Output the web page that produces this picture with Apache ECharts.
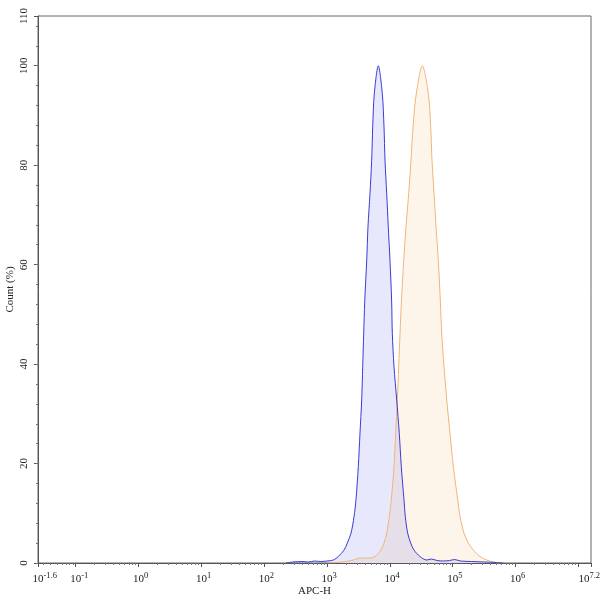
<!DOCTYPE html>
<html>
<head>
<meta charset="utf-8">
<script src="https://cdn.jsdelivr.net/npm/echarts@6/dist/echarts.min.js"></script>
<style>html,body{margin:0;padding:0;background:#fff}#c{width:600px;height:602px}</style>
</head>
<body>
<div id="c"></div>
<script>
// x values are log10(APC-H)
var blueX = [2.35,2.45,2.6,2.7,2.8,2.9,3.0,3.099,3.179,3.270,3.322,3.381,3.429,3.460,3.497,3.524,3.551,3.567,3.583,3.599,3.631,3.651,3.683,3.710,3.726,3.752,3.815,3.879,3.906,3.922,3.949,3.974,4.001,4.028,4.038,4.065,4.108,4.149,4.181,4.224,4.245,4.283,4.331,4.383,4.479,4.585,4.66,4.75,4.85,4.95,5.03,5.12,5.3,5.5,5.7,5.8];
var blueY = [0,0.2,0.3,0.2,0.4,0.3,0.4,0.6,1.3,2.6,4.0,6.0,9.3,12.7,19.4,26.1,32.8,39.5,46.2,52.5,60.9,67.6,74.3,81.0,87.7,94.4,100,94.4,87.7,81.0,74.3,67.6,60.9,52.5,46.2,39.5,32.8,26.1,19.4,12.7,9.3,6.0,4.0,2.6,1.3,0.6,0.8,0.5,0.4,0.5,0.7,0.4,0.3,0.2,0.1,0];
var orangeX = [3.0,3.153,3.3,3.418,3.524,3.6,3.683,3.763,3.858,3.906,3.949,3.990,4.022,4.065,4.092,4.118,4.140,4.161,4.183,4.220,4.256,4.299,4.336,4.368,4.420,4.516,4.611,4.649,4.670,4.702,4.734,4.770,4.803,4.824,4.861,4.904,4.956,5.009,5.079,5.116,5.179,5.248,5.327,5.434,5.540,5.645,5.75];
var orangeY = [0,0.1,0.3,0.6,1.0,1.0,1.0,1.3,2.6,4.0,6.0,9.3,12.7,19.4,26.1,32.8,39.5,46.2,52.5,60.9,67.6,74.3,81.0,87.7,94.4,100,94.4,87.7,81.0,74.3,67.6,60.9,52.5,46.2,39.5,32.8,26.1,19.4,12.7,9.3,6.0,4.0,2.6,1.3,0.6,0.2,0];
var xTickLabels = [-1.6,-1,0,1,2,3,4,5,6,7.2];
var xTickMarks = [-1.6,-1,0,1,2,3,4,5,6,7,7.2];
var yTickLabels = [0,20,40,60,80,100,110];

function pairs(xs, ys){ return xs.map(function(x,i){return [x, ys[i]];}); }
var minorX = [];
for (var n = -2; n <= 7; n++) {
  for (var k = 2; k <= 9; k++) {
    var v = n + Math.log10(k);
    if (v > -1.6 && v < 7.2) minorX.push(v);
  }
}
var minorY = [];
for (var y = 0; y <= 110; y += 4) minorY.push(y);

var font = 'Liberation Serif';
var chart = echarts.init(document.getElementById('c'));
chart.setOption({
  animation: false,
  grid: {left: 38, right: 9, top: 16, bottom: 39, show: true, borderColor: '#666', borderWidth: 1, outerBoundsMode: 'none', containLabel: false},
  xAxis: [{
    type: 'value', min: -1.6, max: 7.2,
    name: 'APC-H', nameLocation: 'middle', nameGap: 23, nameMoveOverlap: false,
    nameTextStyle: {fontFamily: font, fontSize: 11, color: '#222'},
    axisLine: {show: true, onZero: false, lineStyle: {color: '#555'}},
    axisTick: {show: true, length: 4, customValues: xTickMarks, lineStyle: {color: '#555'}},
    splitLine: {show: false},
    axisLabel: {
      customValues: xTickLabels, margin: 8, color: '#222', fontFamily: font, fontSize: 11, hideOverlap: false,
      formatter: function(v){
        var e = String(Math.round(v*10)/10);
        if (v > 7.1) return '{b|10}{s|' + e + '}{q|0}';
        return '{p|' + e + '}{b|10}{s|' + e + '}';
      },
      rich: {
        b: {fontFamily: font, fontSize: 11, color: '#222'},
        s: {fontFamily: font, fontSize: 8.5, color: '#222', padding: [0,0,7,0]},
        p: {fontFamily: font, fontSize: 8.5, color: 'rgba(0,0,0,0)', padding: [0,0,7,0]},
        q: {fontFamily: font, fontSize: 7, color: 'rgba(0,0,0,0)'}
      }
    }
  }, {
    type: 'value', min: -1.6, max: 7.2, position: 'bottom',
    axisLine: {show: false, onZero: false},
    axisTick: {show: true, length: 2, customValues: minorX, lineStyle: {color: '#777'}},
    axisLabel: {show: false},
    splitLine: {show: false}
  }],
  yAxis: [{
    type: 'value', min: 0, max: 110,
    name: 'Count (%)', nameLocation: 'middle', nameGap: 22, nameMoveOverlap: false,
    nameTextStyle: {fontFamily: font, fontSize: 11, color: '#222'},
    axisLine: {show: true, onZero: false, lineStyle: {color: '#555'}},
    axisTick: {show: true, length: 4, customValues: yTickLabels, lineStyle: {color: '#555'}},
    splitLine: {show: false},
    axisLabel: {customValues: yTickLabels, rotate: 90, margin: 8, color: '#222', fontFamily: font, fontSize: 11}
  }, {
    type: 'value', min: 0, max: 110, position: 'left',
    axisLine: {show: false, onZero: false},
    axisTick: {show: true, length: 2, customValues: minorY, lineStyle: {color: '#777'}},
    axisLabel: {show: false},
    splitLine: {show: false}
  }],
  series: [{
    type: 'line', name: 'sample', data: pairs(orangeX, orangeY),
    symbol: 'none', smooth: 0.3,
    lineStyle: {color: '#f0b47a', width: 1},
    areaStyle: {color: '#fdf5ea', opacity: 1}
  }, {
    type: 'line', name: 'isotype', data: pairs(blueX, blueY),
    symbol: 'none', smooth: 0.3,
    lineStyle: {color: '#3b3bd6', width: 1},
    areaStyle: {color: 'rgb(80,80,230)', opacity: 0.13}
  }]
});
</script>
</body>
</html>
